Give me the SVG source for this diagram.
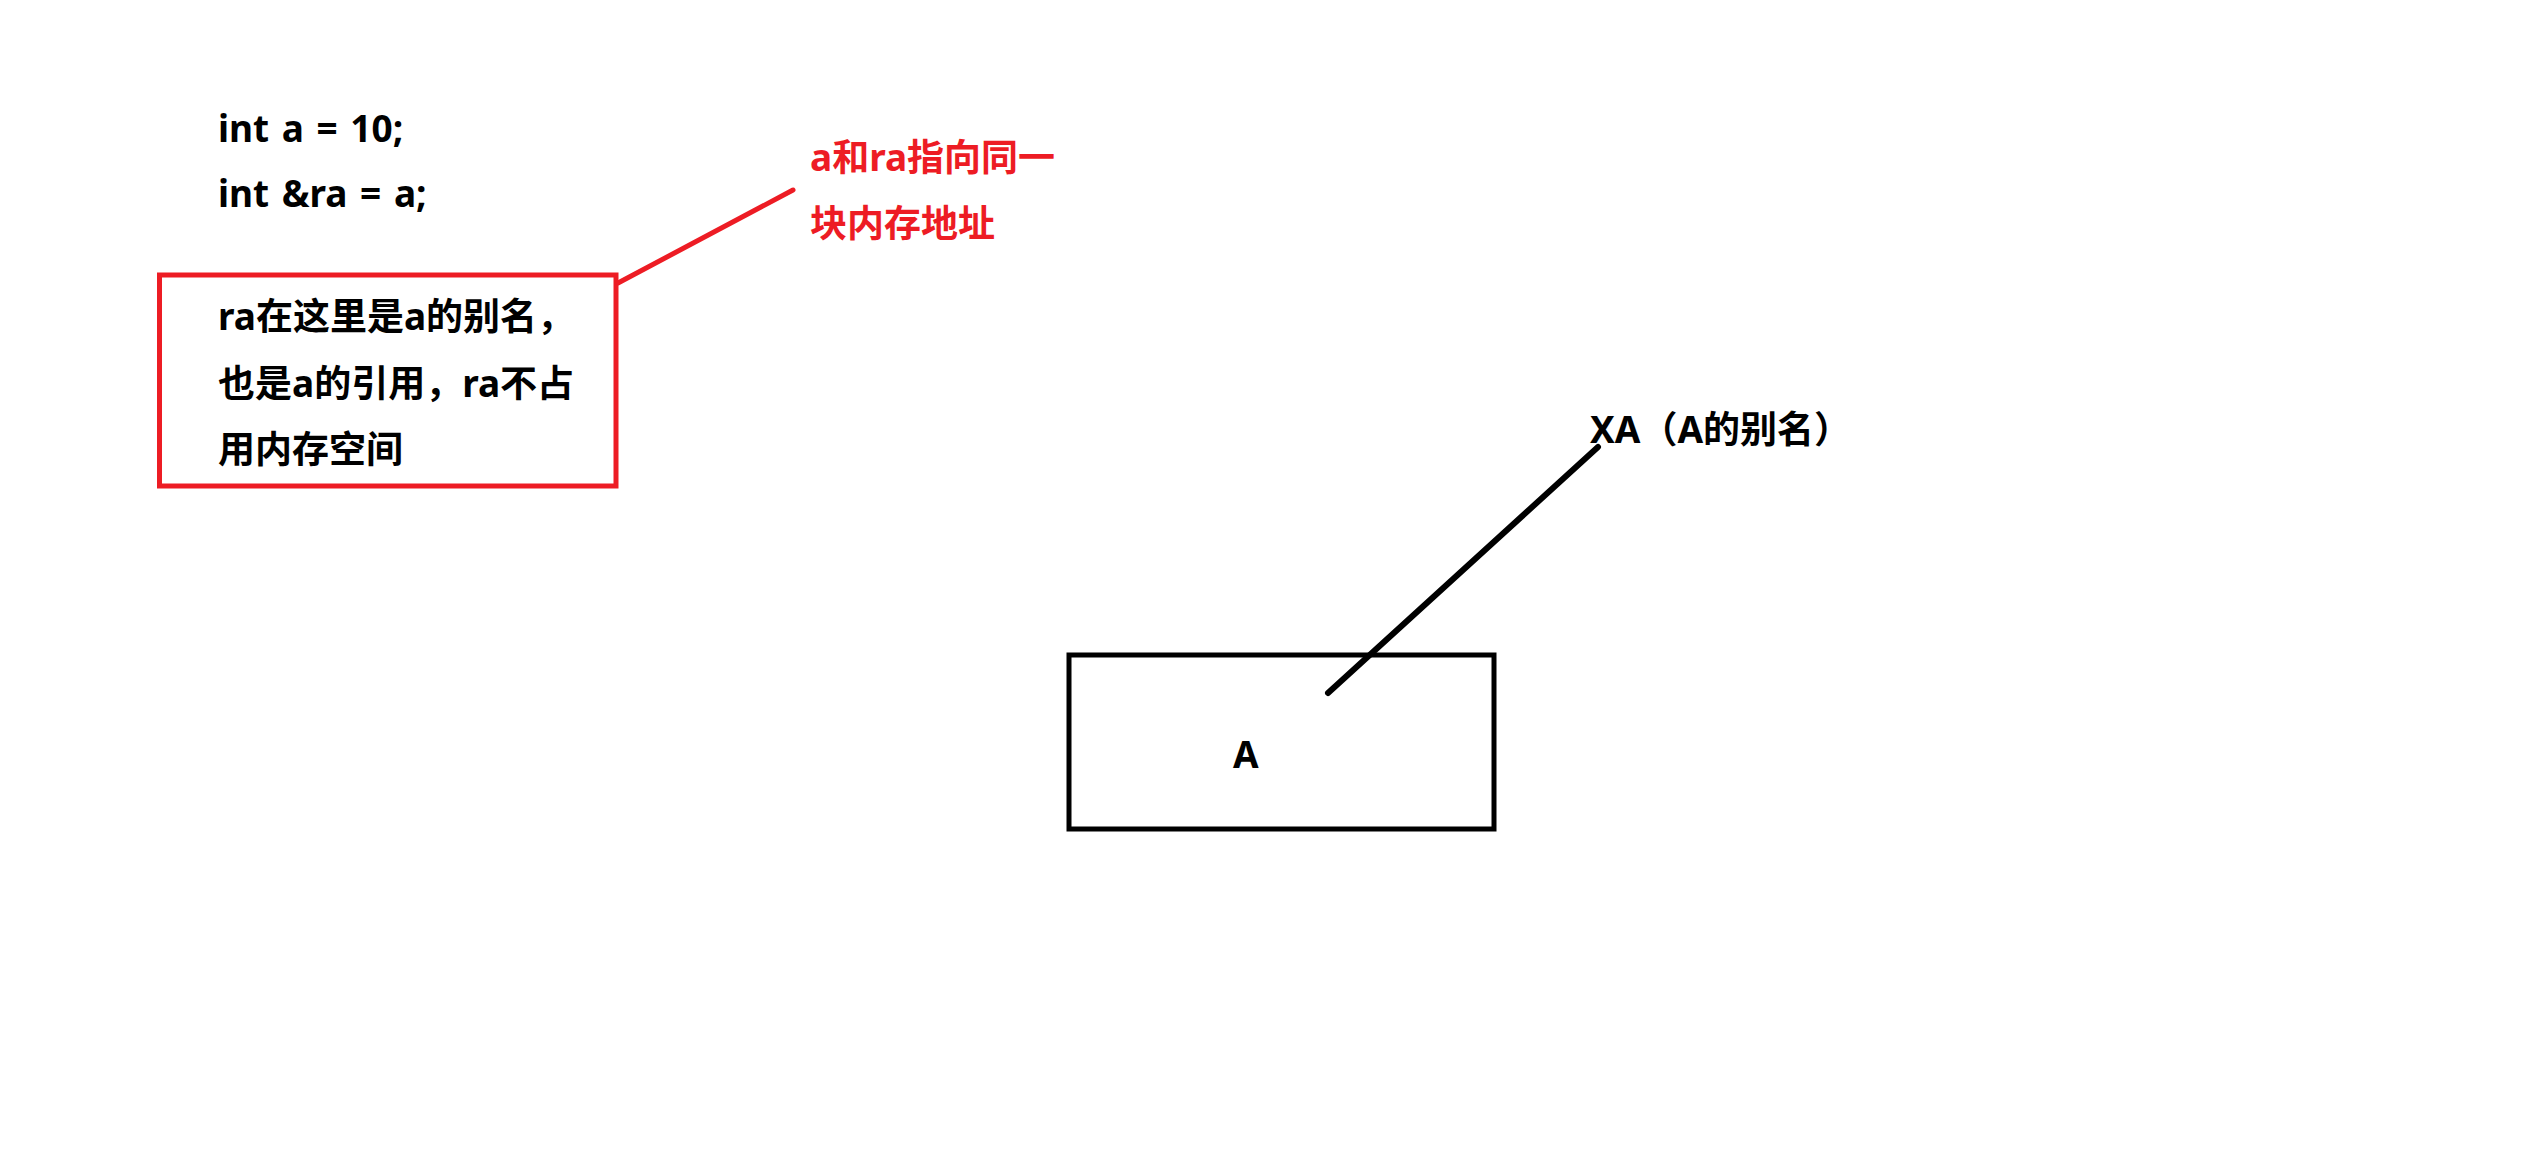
<svg xmlns="http://www.w3.org/2000/svg" width="2536" height="1153" viewBox="0 0 2536 1153">
<style>
text{font-family:"Noto Sans","Noto Sans CJK SC",sans-serif;font-weight:bold;font-size:37px}
.k{fill:#000}
.r{fill:#ED1C24}
.code{word-spacing:3px}
.rbox{fill:none;stroke:#ED1C24;stroke-width:5}
.kbox{fill:none;stroke:#000;stroke-width:5}
.rl{stroke:#ED1C24;stroke-width:5;stroke-linecap:round}
.kl{stroke:#000;stroke-width:6;stroke-linecap:round}
</style>
<rect width="2536" height="1153" fill="#fff"/>
<g id="code">
<text class="k code" x="218" y="142">int a = 10;</text>
<text class="k code" x="218" y="207">int &amp;ra = a;</text>
</g>
<g id="note-box">
<rect class="rbox" x="159.5" y="275" width="456.5" height="211"/>
<text class="k" x="218" y="330">ra在这里是a的别名，</text>
<text class="k" x="218" y="397">也是a的引用，ra不占</text>
<text class="k" x="218" y="463">用内存空间</text>
</g>
<g id="red-note">
<text class="r" x="810" y="171">a和ra指向同一</text>
<text class="r" x="810" y="237">块内存地址</text>
</g>
<g id="box-a">
<rect class="kbox" x="1069" y="655" width="425" height="174"/>
<text class="k" x="1233" y="768">A</text>
</g>
<g id="label-xa">
<text class="k" x="1590" y="443">XA（A的别名）</text>
</g>
<g id="connectors">
<line class="rl" x1="618" y1="283" x2="793" y2="190"/>
<line class="kl" x1="1328" y1="693" x2="1598" y2="447"/>
</g>
</svg>
